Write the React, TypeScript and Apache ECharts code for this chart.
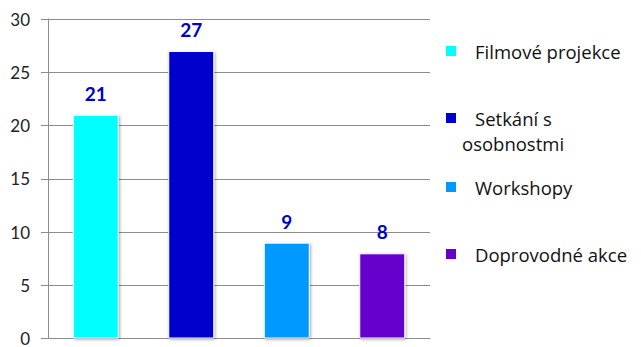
import React, { useEffect, useRef } from "react";
import * as echarts from "echarts";

const categories = ["Filmové projekce", "Setkání s osobnostmi", "Workshopy", "Doprovodné akce"];
const values = [21, 27, 9, 8];
const colors = ["#00FFFF", "#0000CC", "#0099FF", "#6600CC"];
const yTicks = { min: 0, max: 30, interval: 5 };

const FONT = "Lato, 'Noto Sans', sans-serif";
const LEGEND_FONT = "'Open Sans', Lato, sans-serif";

export default function App() {
  const ref = useRef<HTMLDivElement>(null);
  useEffect(() => {
    if (!ref.current) return;
    const chart = echarts.init(ref.current, null, { renderer: "svg" });
    const series = categories.map((name, i) => ({
      name,
      type: "bar",
      stack: "all",
      barWidth: 46,
      data: values.map((v, j) => (j === i ? v : "-")),
      itemStyle: {
        color: colors[i],
        borderColor: "#ffffff",
        borderWidth: 1,
        shadowColor: "rgba(0,0,0,0.35)",
        shadowBlur: 3,
        shadowOffsetX: 1,
        shadowOffsetY: 1,
      },
      label: {
        show: true,
        position: "top",
        distance: 12,
        color: "#0000CC",
        fontWeight: "bold",
        fontSize: 19,
        fontFamily: FONT,
      },
    }));
    const legendTops = [41, 108, 177, 244];
    const legend = categories.map((name, i) => ({
      data: [name],
      orient: "vertical",
      left: 446,
      top: legendTops[i],
      padding: 0,
      icon: "rect",
      itemWidth: 10,
      itemHeight: 10,
      selectedMode: false,
      itemStyle: { borderWidth: 0, shadowBlur: 0 },
      formatter: (n: string) => (n === "Setkání s osobnostmi" ? "Setkání s" : n),
      textStyle: {
        fontFamily: LEGEND_FONT,
        fontSize: 18.5,
        lineHeight: 20,
        color: "#111111",
        padding: [0, 0, 0, 14],
      },
    }));
    chart.setOption({
      animation: false,
      backgroundColor: "#ffffff",
      grid: { left: 48, right: 211, top: 19, bottom: 4, containLabel: false },
      legend,
      graphic: [
        {
          type: "text",
          left: 462,
          top: 134,
          style: {
            text: "osobnostmi",
            fontFamily: LEGEND_FONT,
            fontSize: 18.5,
            fill: "#111111",
          },
        },
      ],
      xAxis: {
        type: "category",
        data: categories,
        axisLabel: { show: false },
        axisTick: { show: false },
        axisLine: { show: true, lineStyle: { color: "#8c8c8c", width: 1 } },
      },
      yAxis: {
        type: "value",
        min: yTicks.min,
        max: yTicks.max,
        interval: yTicks.interval,
        axisLine: { show: true, lineStyle: { color: "#8c8c8c", width: 1 } },
        axisTick: { show: true, length: 7, lineStyle: { color: "#8c8c8c" } },
        splitLine: { show: true, lineStyle: { color: "#8c8c8c", width: 1 } },
        axisLabel: {
          margin: 18,
          fontFamily: FONT,
          fontSize: 17,
          color: "#222222",
        },
      },
      series,
    });
    return () => chart.dispose();
  }, []);
  return (
    <div
      ref={ref}
      style={{ position: "fixed", left: 0, top: 0, width: 641, height: 347 }}
    />
  );
}
